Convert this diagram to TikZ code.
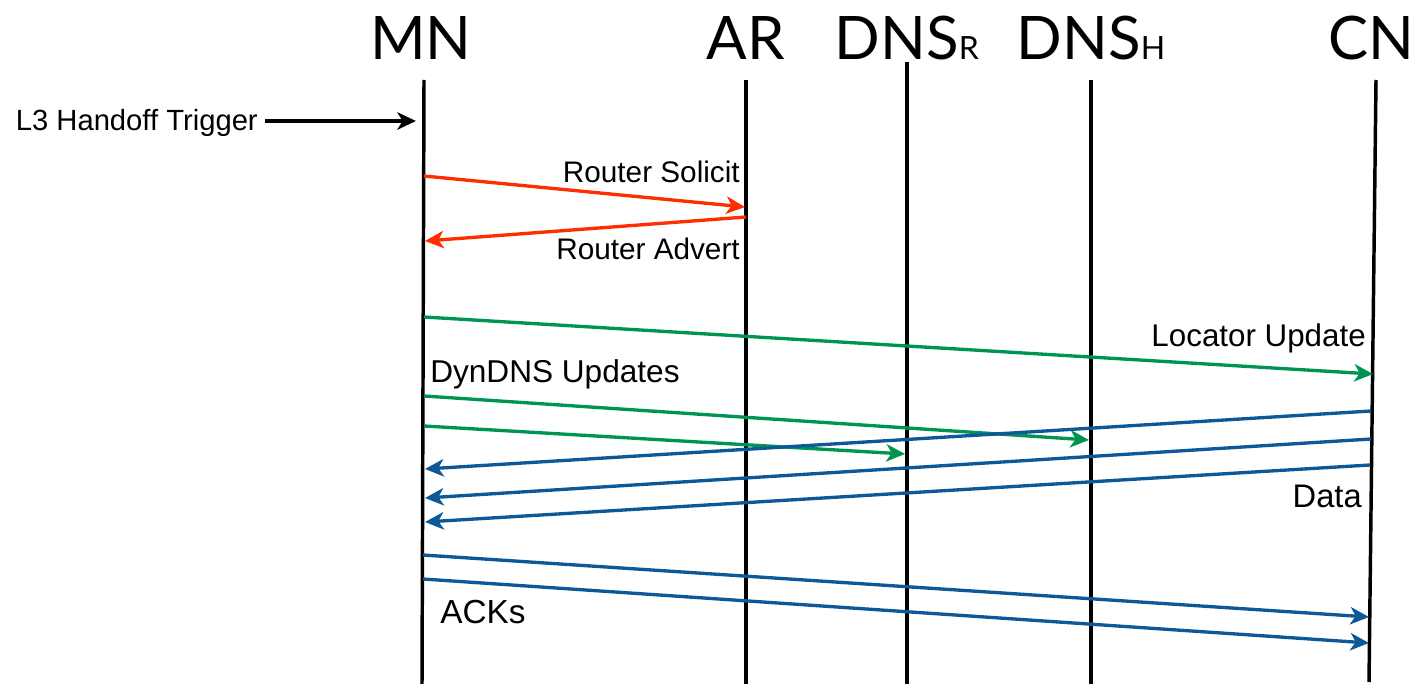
\documentclass[tikz,border=0pt]{standalone}
\usepackage{fontspec}
\setmainfont{Liberation Sans}
\newfontfamily\headfont{Lato}
\usetikzlibrary{arrows.meta}

\definecolor{solred}{RGB}{255,45,0}
\definecolor{locgreen}{RGB}{0,148,82}
\definecolor{datablue}{RGB}{12,88,152}

\tikzset{
  lifeline/.style={line width=2.6pt, black},
  msg/.style={line width=2.5pt, -{Stealth[length=14pt,width=13pt,inset=4pt]}},
  redmsg/.style={msg, solred},
  greenmsg/.style={msg, locgreen},
  bluemsg/.style={msg, datablue},
  blackmsg/.style={msg, black},
  header/.style={inner sep=0pt, anchor=base, font=\headfont\fontsize{45}{50}\selectfont},
  msglabel/.style={inner sep=0pt, font=\fontsize{#1}{26}\selectfont},
  msglabel/.default=22.3
}

\begin{document}
\begin{tikzpicture}[x=0.75pt, y=-0.75pt]
  \useasboundingbox (0,0) rectangle (1424,684);

  % headers
  \node (MN) at (421, 60) [header] {MN};
  \node (AR) at (746, 60) [header] {AR};
  \node (DNSR) at (907, 60) [header] {DNS{\fontsize{24}{26}\selectfont R}};
  \node (DNSH) at (1091, 60) [header] {DNS{\fontsize{24}{26}\selectfont H}};
  \node (CN) at (1371, 60) [header] {CN};

  % lifelines
  \coordinate (mntop) at (424, 80);
  \coordinate (mnbot) at (422, 684);
  \coordinate (artop) at (746, 80);
  \coordinate (arbot) at (746, 684);
  \coordinate (dnsrtop) at (907, 62);
  \coordinate (dnsrbot) at (907, 684);
  \coordinate (dnshtop) at (1091, 80);
  \coordinate (dnshbot) at (1091, 684);
  \coordinate (cntop) at (1376, 80);
  \coordinate (cnbot) at (1369, 682);
  \draw[lifeline] (mntop) -- (mnbot);
  \draw[lifeline] (artop) -- (arbot);
  \draw[lifeline] (dnsrtop) -- (dnsrbot);
  \draw[lifeline] (dnshtop) -- (dnshbot);
  \draw[lifeline] (cntop) -- (cnbot);

  % trigger
  \node (trigger) at (258, 131) [msglabel=21.9, anchor=base east] {L3 Handoff Trigger};
  \coordinate (trigstart) at (265, 121);
  \coordinate (trigend) at (416, 121);
  \draw[blackmsg] (trigstart) -- (trigend);

  % router discovery
  \coordinate (rs1) at (424, 176);
  \coordinate (rs2) at (745, 207);
  \coordinate (ra1) at (746, 217);
  \coordinate (ra2) at (425, 241);
  \draw[redmsg] (rs1) -- (rs2);
  \draw[redmsg] (ra1) -- (ra2);
  \node (solicit) at (740, 183) [msglabel, anchor=base east] {Router Solicit};
  \node (advert) at (740, 260) [msglabel, anchor=base east] {Router Advert};

  % locator and dns updates
  \coordinate (lu1) at (424, 317);
  \coordinate (lu2) at (1373, 374);
  \coordinate (dh1) at (424, 396);
  \coordinate (dh2) at (1089, 440);
  \coordinate (dr1) at (424, 426);
  \coordinate (dr2) at (905, 454);
  \draw[greenmsg] (lu1) -- (lu2);
  \draw[greenmsg] (dh1) -- (dh2);
  \draw[greenmsg] (dr1) -- (dr2);
  \node (locator) at (1366, 346) [msglabel=23.5, anchor=base east] {Locator Update};
  \node (dyndns) at (430, 382) [msglabel=23.7, anchor=base west] {DynDNS Updates};

  % data
  \coordinate (da1) at (1371, 411);
  \coordinate (da2) at (425, 469);
  \coordinate (db1) at (1371, 439);
  \coordinate (db2) at (425, 498);
  \coordinate (dc1) at (1370, 465);
  \coordinate (dc2) at (425, 522);
  \draw[bluemsg] (da1) -- (da2);
  \draw[bluemsg] (db1) -- (db2);
  \draw[bluemsg] (dc1) -- (dc2);
  \node (data) at (1362, 507) [msglabel=24.5, anchor=base east] {Data};

  % acks
  \coordinate (aa1) at (423, 555);
  \coordinate (aa2) at (1369, 617);
  \coordinate (ab1) at (423, 579);
  \coordinate (ab2) at (1369, 643);
  \draw[bluemsg] (aa1) -- (aa2);
  \draw[bluemsg] (ab1) -- (ab2);
  \node (acks) at (440, 623) [msglabel=25, anchor=base west] {ACKs};
\end{tikzpicture}
\end{document}
